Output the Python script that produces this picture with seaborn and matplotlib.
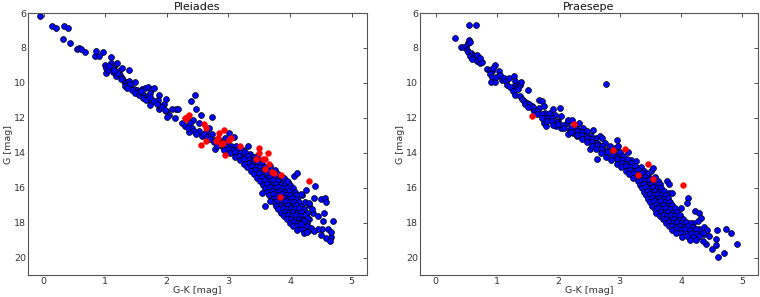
import numpy as np
import pandas as pd
import matplotlib
matplotlib.use('Agg')
import matplotlib.pyplot as plt
import seaborn as sns

# colour-magnitude diagrams, points (G-K, G)

pleiades_blue = [
    (-0.05, 6.15), (0.13, 6.76), (0.20, 6.88), (0.33, 6.76), (0.39, 6.88), (0.31, 7.49),
    (0.43, 7.71), (0.55, 8.05), (0.58, 8.0), (0.61, 8.06), (0.67, 8.25), (0.83, 8.48),
    (0.85, 8.15), (0.90, 8.48), (0.97, 8.25),
    (1.0, 8.95), (1.01, 9.14), (1.01, 9.43), (1.05, 9.24), (1.09, 8.86), (1.10, 8.51),
    (1.16, 8.95), (1.19, 8.86), (1.13, 9.14), (1.22, 9.33), (1.24, 9.52), (1.28, 9.14),
    (1.38, 9.28), (1.27, 9.71), (1.30, 9.9), (1.33, 10.0), (1.36, 10.1), (1.38, 9.9),
    (1.49, 9.96), (1.41, 10.23), (1.46, 10.34), (1.51, 10.42), (1.54, 10.53), (1.59, 10.34),
    (1.64, 10.29), (1.65, 10.76), (1.70, 10.23), (1.76, 10.34), (1.79, 10.29), (1.73, 10.57),
    (1.69, 10.91), (1.76, 10.95), (1.73, 11.24), (1.87, 10.67), (1.86, 10.95), (1.88, 11.52),
    (1.89, 11.3), (1.98, 10.91), (1.95, 11.18), (1.99, 11.62), (2.03, 11.81), (2.0, 11.94),
    (2.08, 11.49), (2.15, 11.52), (2.19, 11.52), (2.14, 12.0), (2.25, 12.29), (2.33, 12.0),
    (1.12, 9.35), (1.18, 9.6), (1.2, 9.45), (1.25, 9.8), (1.32, 10.15), (1.4, 10.05),
    (1.43, 10.4), (1.48, 10.55), (1.55, 10.7), (1.6, 10.6), (1.62, 10.85), (1.67, 11.0),
    (1.72, 10.8), (1.8, 11.05), (1.84, 11.2), (1.92, 11.4), (1.97, 11.55), (1.58, 10.45),
    (1.35, 10.3), (1.06, 9.05), (1.15, 9.25),
    (2.40, 11.05), (2.45, 10.72), (2.48, 11.52), (2.43, 12.1), (2.38, 12.29), (2.41, 12.57),
    (2.44, 12.76), (2.36, 12.82), (2.52, 12.76), (2.57, 13.05), (2.52, 12.29), (2.55, 11.81),
    (2.74, 11.94), (2.68, 12.57), (2.64, 12.82), (2.73, 12.95), (2.79, 13.24), (2.85, 13.43),
    (2.90, 13.62), (2.87, 13.33), (2.95, 13.14), (3.01, 12.86), (3.09, 13.09), (2.79, 13.77),
    (2.94, 13.77), (3.06, 13.71), (3.31, 13.62), (2.6, 12.95), (2.66, 13.1), (2.7, 13.2),
    (2.48, 12.9), (2.3, 12.45), (2.35, 12.6),
    # dense lower main sequence
    (2.76, 13.38), (2.83, 13.45), (2.91, 13.36), (2.98, 13.44),
    (2.81, 13.62), (2.89, 13.58), (2.96, 13.66), (3.04, 13.6), (3.12, 13.63),
    (2.93, 13.83), (3.01, 13.78), (3.08, 13.84), (3.16, 13.79), (3.24, 13.85),
    (3.03, 14.02), (3.1, 13.97), (3.18, 14.04), (3.27, 13.98), (3.35, 14.05),
    (3.11, 14.22), (3.17, 14.17), (3.25, 14.23), (3.32, 14.18), (3.41, 14.24), (3.47, 14.19),
    (3.19, 14.42), (3.26, 14.37), (3.34, 14.44), (3.41, 14.4), (3.5, 14.45),
    (3.25, 14.62), (3.33, 14.58), (3.4, 14.64), (3.48, 14.6), (3.55, 14.63),
    (3.3, 14.83), (3.38, 14.78), (3.45, 14.84), (3.52, 14.79), (3.6, 14.82), (3.68, 14.77),
    (3.36, 15.02), (3.43, 14.97), (3.51, 15.03), (3.58, 14.98), (3.65, 15.04), (3.76, 15.0),
    (3.42, 15.22), (3.5, 15.17), (3.57, 15.23), (3.63, 15.19), (3.7, 15.24), (3.8, 15.2),
    (3.47, 15.42), (3.55, 15.37), (3.62, 15.43), (3.68, 15.38), (3.76, 15.44), (3.85, 15.4),
    (3.52, 15.62), (3.6, 15.57), (3.67, 15.63), (3.73, 15.58), (3.8, 15.64), (3.88, 15.6), (3.96, 15.66),
    (3.56, 15.82), (3.63, 15.77), (3.7, 15.83), (3.77, 15.78), (3.84, 15.84), (3.92, 15.79), (4.0, 15.83),
    (3.6, 16.02), (3.67, 15.97), (3.74, 16.03), (3.8, 15.98), (3.87, 16.04), (3.95, 15.99), (4.05, 16.03),
    (3.62, 16.22), (3.7, 16.17), (3.77, 16.23), (3.84, 16.18), (3.9, 16.24), (3.98, 16.19), (4.08, 16.23),
    (3.66, 16.42), (3.73, 16.37), (3.8, 16.43), (3.87, 16.38), (3.93, 16.44), (4.0, 16.39), (4.1, 16.43), (4.2, 16.4),
    (3.7, 16.62), (3.77, 16.57), (3.84, 16.63), (3.9, 16.58), (3.96, 16.64), (4.03, 16.59), (4.12, 16.63),
    (3.74, 16.82), (3.8, 16.77), (3.87, 16.83), (3.94, 16.78), (4.0, 16.84), (4.07, 16.79), (4.15, 16.83), (4.25, 16.8),
    (3.78, 17.02), (3.85, 16.97), (3.91, 17.03), (3.97, 16.98), (4.04, 17.04), (4.1, 16.99), (4.18, 17.03), (4.3, 17.0),
    (3.8, 17.22), (3.88, 17.17), (3.95, 17.23), (4.01, 17.18), (4.07, 17.24), (4.14, 17.19), (4.22, 17.23),
    (3.85, 17.42), (3.92, 17.37), (3.98, 17.43), (4.05, 17.38), (4.12, 17.44), (4.2, 17.39), (4.28, 17.43),
    (3.9, 17.62), (3.97, 17.57), (4.03, 17.63), (4.1, 17.58), (4.16, 17.64), (4.24, 17.59),
    (3.95, 17.82), (4.02, 17.77), (4.08, 17.83), (4.14, 17.78), (4.2, 17.84), (4.3, 17.8),
    (4.0, 18.02), (4.07, 17.97), (4.13, 18.03), (4.2, 17.98), (4.28, 18.04),
    (4.05, 18.22), (4.12, 18.17), (4.2, 18.23), (4.27, 18.18),
    (4.12, 18.42), (4.2, 18.37), (4.3, 18.43), (4.22, 18.6),
    (3.6, 17.05), (3.67, 16.76), (3.55, 16.3),
    # faint red side
    (4.06, 15.33), (4.12, 15.16), (4.40, 15.92), (4.26, 16.13), (4.18, 16.38), (4.39, 16.61),
    (4.50, 16.67), (4.57, 16.57), (4.59, 16.8), (4.55, 17.43), (4.53, 17.9), (4.70, 17.9),
    (4.50, 18.72), (4.59, 18.86), (4.66, 18.8), (4.65, 19.05), (4.52, 18.34), (4.62, 18.38),
    (4.66, 18.51), (4.45, 18.34), (4.34, 18.29), (4.39, 18.5), (4.27, 18.51), (4.37, 17.43),
    (4.27, 17.71), (4.23, 17.9), (4.17, 18.1), (4.35, 17.2), (4.3, 16.9), (4.45, 17.6),
    (3.9, 15.45), (3.95, 15.6),
]

pleiades_red = [
    (2.29, 12.0), (2.33, 11.95), (2.36, 11.81), (2.31, 12.08), (2.61, 12.38), (2.64, 12.57),
    (2.63, 13.33), (2.55, 13.58), (2.85, 12.86), (2.93, 12.70), (2.83, 13.14), (2.91, 13.43),
    (3.01, 13.24), (3.05, 13.14), (2.94, 14.11), (3.19, 13.62), (3.50, 13.75), (3.50, 14.04),
    (3.44, 14.34), (3.60, 14.33), (3.64, 14.0), (3.66, 14.67), (3.60, 14.95), (3.71, 15.09),
    (3.74, 15.14), (3.85, 15.28), (3.56, 14.33), (4.30, 15.62), (3.84, 16.51), (2.8, 13.3),
    (2.88, 13.5),
]

praesepe_blue = [
    (0.54, 6.67), (0.66, 6.67), (0.31, 7.43), (0.41, 7.96), (0.46, 7.96), (0.50, 7.9),
    (0.52, 7.71), (0.54, 7.56), (0.56, 7.68), (0.51, 8.1), (0.52, 8.25), (0.57, 8.29),
    (0.56, 8.48), (0.61, 8.38), (0.65, 8.48), (0.68, 8.38), (0.59, 8.63), (0.68, 8.76),
    (0.72, 8.86), (0.76, 8.82), (0.73, 8.57),
    (0.84, 9.2), (0.88, 9.28), (0.92, 9.33), (0.97, 9.0), (0.94, 9.14), (0.89, 9.47),
    (0.92, 9.66), (0.90, 9.96), (0.96, 9.96), (0.99, 9.66), (1.03, 9.33), (1.05, 9.52),
    (1.08, 9.81), (1.11, 9.71), (1.14, 9.9), (1.19, 9.73), (1.27, 9.58), (1.30, 9.9),
    (1.32, 10.1), (1.28, 10.15), (1.32, 10.23), (1.37, 10.1), (1.35, 10.34), (1.39, 9.96),
    (1.17, 10.1), (1.22, 10.23), (1.26, 10.48), (1.30, 10.67), (1.37, 10.76), (1.41, 10.91),
    (1.51, 10.38), (1.44, 11.05), (1.49, 11.14), (1.53, 11.3), (1.57, 11.33), (1.58, 11.49),
    (1.62, 11.62), (1.68, 10.95), (1.73, 11.05), (1.69, 11.43), (1.76, 11.3), (1.78, 11.71),
    (1.75, 12.0), (1.77, 12.29), (1.80, 12.44), (1.84, 12.1), (1.86, 11.71), (1.92, 11.52),
    (1.95, 11.81), (2.03, 11.43), (2.05, 11.9), (2.0, 12.19), (1.96, 12.48), (2.05, 12.57),
    (2.14, 12.29), (2.16, 12.13), (2.22, 12.15), (2.19, 12.67), (2.15, 12.9), (2.24, 12.86),
    (2.30, 13.05), (2.34, 12.32), (2.41, 12.57), (2.43, 12.86), (2.47, 12.76), (2.57, 12.67),
    (2.54, 13.05), (2.62, 13.14), (2.68, 13.05), (2.72, 13.14), (2.52, 13.81), (2.65, 13.52),
    (2.76, 13.43), (2.84, 13.62), (2.92, 13.71), (2.96, 13.28), (2.97, 13.62), (2.78, 13.96),
    (2.63, 14.34), (2.89, 14.19), (3.0, 14.19), (3.14, 13.96), (3.19, 14.42), (3.27, 14.48),
    (3.28, 14.86), (3.22, 15.14), (3.32, 14.91), (3.41, 15.14), (3.51, 15.05), (3.54, 14.86),
    (3.77, 15.62), (3.81, 15.81), (3.80, 16.29), (3.85, 16.32), (4.0, 17.14), (4.11, 16.57),
    (4.09, 16.9), (4.22, 17.33), (4.29, 17.43), (4.32, 17.71), (4.27, 17.9), (4.19, 18.0),
    (4.29, 18.38), (4.38, 18.23), (4.43, 18.42), (4.59, 18.42), (4.73, 18.38), (4.81, 18.57),
    (4.92, 19.24), (4.57, 18.95), (4.57, 19.28), (4.51, 19.52), (4.41, 19.24), (4.70, 19.75),
    (4.61, 19.94), (4.46, 18.76), (4.38, 18.67), (4.27, 18.76), (4.22, 18.95),
    (2.78, 10.04),
    # upper main sequence ridge
    (1.45, 11.2), (1.52, 11.22), (1.5, 11.4), (1.58, 11.38), (1.6, 11.6), (1.66, 11.62),
    (1.66, 11.8), (1.74, 11.78), (1.74, 12.0), (1.82, 11.98), (1.9, 12.02), (1.82, 12.2),
    (1.9, 12.18), (1.98, 12.22), (1.92, 12.4), (2.0, 12.38), (2.08, 12.42),
    (2.1, 12.6), (2.2, 12.58), (2.3, 12.62), (2.2, 12.8), (2.3, 12.78), (2.38, 12.82),
    (2.3, 13.0), (2.38, 12.98), (2.46, 13.02), (2.38, 13.2), (2.46, 13.18), (2.55, 13.22),
    (2.46, 13.4), (2.55, 13.38), (2.63, 13.42), (2.55, 13.6), (2.63, 13.58), (2.72, 13.62),
    (2.62, 13.8), (2.7, 13.78), (2.8, 13.82),
    # dense lower main sequence
    (2.7, 14.02), (2.8, 13.97), (2.9, 14.03), (3.0, 13.98),
    (2.78, 14.22), (2.88, 14.17), (2.96, 14.23), (3.05, 14.18),
    (2.86, 14.42), (2.95, 14.37), (3.03, 14.43), (3.12, 14.38),
    (2.95, 14.62), (3.03, 14.57), (3.1, 14.63), (3.18, 14.58),
    (3.02, 14.82), (3.1, 14.77), (3.17, 14.83), (3.25, 14.78), (3.35, 14.84),
    (3.1, 15.02), (3.17, 14.97), (3.24, 15.03), (3.3, 14.98), (3.4, 15.04),
    (3.16, 15.22), (3.23, 15.17), (3.3, 15.23), (3.36, 15.18), (3.45, 15.24),
    (3.22, 15.42), (3.3, 15.37), (3.36, 15.43), (3.42, 15.38), (3.5, 15.44), (3.58, 15.39),
    (3.3, 15.62), (3.36, 15.57), (3.42, 15.63), (3.48, 15.58), (3.55, 15.64), (3.63, 15.59),
    (3.33, 15.82), (3.4, 15.77), (3.46, 15.83), (3.52, 15.78), (3.58, 15.84), (3.66, 15.79),
    (3.36, 16.02), (3.43, 15.97), (3.49, 16.03), (3.55, 15.98), (3.61, 16.04), (3.68, 15.99),
    (3.4, 16.22), (3.46, 16.17), (3.52, 16.23), (3.58, 16.18), (3.64, 16.24), (3.72, 16.19),
    (3.43, 16.42), (3.5, 16.37), (3.56, 16.43), (3.62, 16.38), (3.68, 16.44), (3.75, 16.39),
    (3.46, 16.62), (3.53, 16.57), (3.59, 16.63), (3.65, 16.58), (3.71, 16.64), (3.78, 16.59),
    (3.5, 16.82), (3.56, 16.77), (3.62, 16.83), (3.68, 16.78), (3.74, 16.84), (3.82, 16.79),
    (3.53, 17.02), (3.6, 16.97), (3.66, 17.03), (3.72, 16.98), (3.78, 17.04), (3.86, 16.99),
    (3.57, 17.22), (3.63, 17.17), (3.69, 17.23), (3.75, 17.18), (3.82, 17.24), (3.9, 17.19),
    (3.6, 17.42), (3.67, 17.37), (3.73, 17.43), (3.79, 17.38), (3.86, 17.44), (3.94, 17.39),
    (3.65, 17.62), (3.71, 17.57), (3.77, 17.63), (3.83, 17.58), (3.9, 17.64), (3.98, 17.59),
    (3.7, 17.82), (3.76, 17.77), (3.82, 17.83), (3.88, 17.78), (3.95, 17.84), (4.03, 17.79),
    (3.75, 18.02), (3.81, 17.97), (3.87, 18.03), (3.93, 17.98), (4.0, 18.04), (4.08, 17.99), (4.15, 18.03),
    (3.8, 18.22), (3.86, 18.17), (3.92, 18.23), (3.98, 18.18), (4.05, 18.24), (4.12, 18.19), (4.2, 18.23),
    (3.86, 18.42), (3.93, 18.37), (4.0, 18.43), (4.07, 18.38), (4.15, 18.44), (4.25, 18.39),
    (3.92, 18.62), (4.0, 18.57), (4.08, 18.63), (4.16, 18.58), (4.25, 18.64), (4.35, 18.6),
    (4.02, 18.82), (4.1, 18.77), (4.2, 18.83), (4.3, 18.78),
    (4.15, 19.02), (4.25, 18.98), (4.35, 19.03),
]

praesepe_red = [
    (1.57, 11.9), (2.26, 12.38), (2.89, 13.83), (3.08, 13.77), (3.46, 14.63),
    (3.30, 15.28), (3.54, 15.49), (4.03, 15.87),
]

clusters = ['Pleiades', 'Praesepe']
xticks = [0, 1, 2, 3, 4, 5]
yticks = [6, 8, 10, 12, 14, 16, 18, 20]


def to_frame(blue, red):
    b = pd.DataFrame(blue, columns=['gk', 'g'])
    b['member'] = 'blue'
    r = pd.DataFrame(red, columns=['gk', 'g'])
    r['member'] = 'red'
    return pd.concat([b, r], ignore_index=True)


frames = [to_frame(pleiades_blue, pleiades_red), to_frame(praesepe_blue, praesepe_red)]

sns.set_style('white')
plt.rcParams['font.family'] = ['DejaVu Sans']

fig = plt.figure(figsize=(7.6, 2.97), dpi=100)
ax1 = fig.add_axes([0.037, 0.074, 0.446, 0.882])
ax2 = fig.add_axes([0.553, 0.074, 0.444, 0.882])

for ax, df, name in zip([ax1, ax2], frames, clusters):
    sns.scatterplot(data=df[df.member == 'blue'], x='gk', y='g', ax=ax,
                    color='#0000ff', edgecolor='black', linewidth=0.5, s=18, legend=False)
    sns.scatterplot(data=df[df.member == 'red'], x='gk', y='g', ax=ax,
                    color='#ff0000', edgecolor='#ff0000', linewidth=0.3, s=18, legend=False)
    ax.set_xlim(-0.25, 5.25)
    ax.set_ylim(21, 6)
    ax.set_xticks(xticks)
    ax.set_yticks(yticks)
    ax.tick_params(direction='in', top=True, right=True, length=3, width=0.6,
                   labelsize=6.8, colors='#333333', pad=1.5)
    for sp in ax.spines.values():
        sp.set_color('#555555')
        sp.set_linewidth(0.8)
    ax.set_title(name, fontsize=8, pad=2, color='#111111')
    ax.set_xlabel('G-K [mag]', fontsize=6.8, labelpad=0, color='#333333')
    ax.set_ylabel('G [mag]', fontsize=6.8, labelpad=1, color='#333333')

fig.savefig('out.png', dpi=100)
